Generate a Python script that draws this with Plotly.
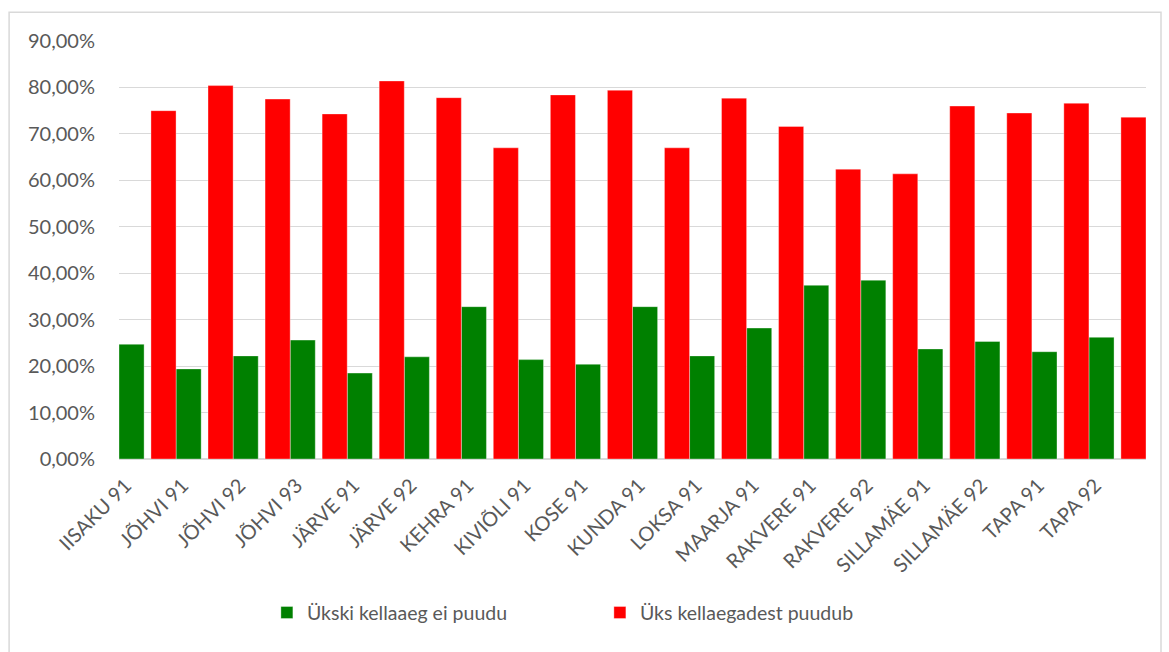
import plotly.graph_objects as go

# categories (x axis)
categories = [
    "IISAKU 91", "JÕHVI 91", "JÕHVI 92", "JÕHVI 93", "JÄRVE 91", "JÄRVE 92",
    "KEHRA 91", "KIVIÕLI 91", "KOSE 91", "KUNDA 91", "LOKSA 91", "MAARJA 91",
    "RAKVERE 91", "RAKVERE 92", "SILLAMÄE 91", "SILLAMÄE 92", "TAPA 91", "TAPA 92",
]

# series values, in percent
ukski_ei_puudu = [24.7, 19.4, 22.2, 25.6, 18.5, 22.0, 32.8, 21.4, 20.4,
                  32.8, 22.2, 28.2, 37.4, 38.5, 23.7, 25.3, 23.1, 26.2]
uks_puudub = [75.0, 80.4, 77.5, 74.3, 81.4, 77.8, 67.0, 78.4, 79.4,
              67.0, 77.7, 71.6, 62.4, 61.4, 76.0, 74.5, 76.6, 73.6]

series_names = ["Ükski kellaaeg ei puudu", "Üks kellaegadest puudub"]
y_ticks = [0, 10, 20, 30, 40, 50, 60, 70, 80, 90]
y_ticktext = [f"{v:.2f}%".replace(".", ",") for v in y_ticks]

FONT = "Lato, Calibri, 'Open Sans', sans-serif"
GREY = "#595959"

fig = go.Figure()
fig.add_trace(go.Bar(
    x=categories, y=ukski_ei_puudu, name=series_names[0],
    marker=dict(color="#008000", line=dict(color="rgba(255,255,255,0.35)", width=1)),
    width=0.44, offset=-0.5,
))
fig.add_trace(go.Bar(
    x=categories, y=uks_puudub, name=series_names[1],
    marker=dict(color="#ff0000", line=dict(color="rgba(255,255,255,0.35)", width=1)),
    width=0.44, offset=0.06,
))

# outer chart frame
fig.add_shape(type="rect", xref="paper", yref="paper",
              x0=-0.107, x1=1.0146, y0=-0.49, y1=1.069,
              line=dict(color="#d9d9d9", width=1.5), fillcolor="rgba(0,0,0,0)",
              layer="below")

fig.update_layout(
    width=1169, height=652,
    margin=dict(l=119, r=23, t=41, b=193),
    paper_bgcolor="white", plot_bgcolor="white",
    barmode="overlay",
    font=dict(family=FONT, color=GREY, size=20),
    showlegend=True,
    legend=dict(
        orientation="h", x=0.144, xanchor="left", y=-0.368, yanchor="middle",
        font=dict(family=FONT, size=19.5, color=GREY),
        itemwidth=30, entrywidth=288, entrywidthmode="pixels",
    ),
    xaxis=dict(
        tickangle=-45, showgrid=False, showline=False, zeroline=False,
        ticks="", tickfont=dict(family=FONT, size=20, color=GREY),
        ticklabelstandoff=10, ticklabelshift=-22,
        range=[-0.5, len(categories) - 0.5],
    ),
    yaxis=dict(
        range=[0, 90], tickvals=y_ticks, ticktext=y_ticktext,
        showgrid=True, gridcolor="#d9d9d9", gridwidth=1.3,
        zeroline=True, zerolinecolor="#d9d9d9", zerolinewidth=2,
        showline=False, ticks="", ticklabelstandoff=23,
        tickfont=dict(family=FONT, size=20, color=GREY),
    ),
)

fig.write_html("out.html", config={"displayModeBar": False},
               post_script="document.body.style.margin='0';")
